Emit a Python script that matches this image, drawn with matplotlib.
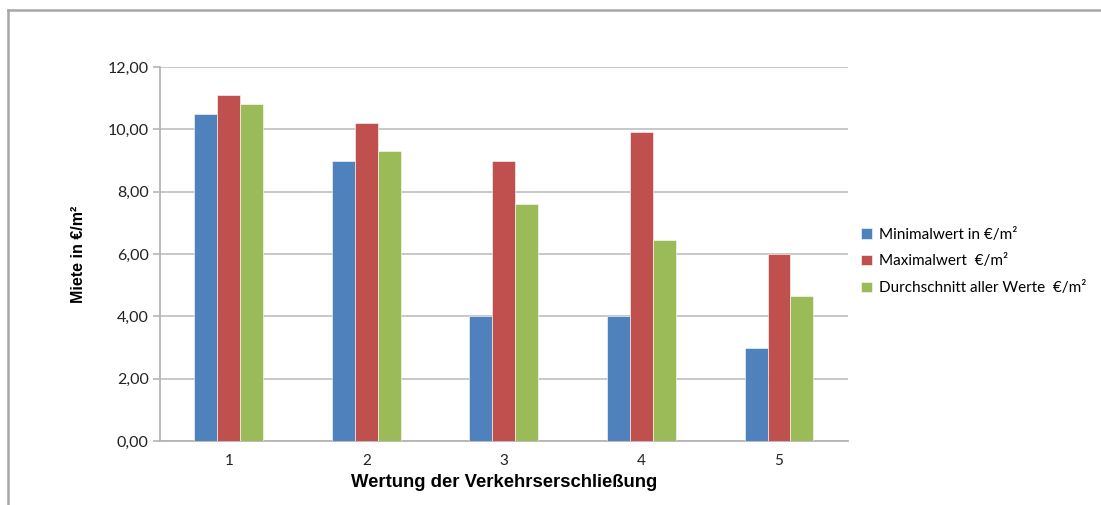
import matplotlib
matplotlib.use('Agg')
import matplotlib.pyplot as plt
import numpy as np
from matplotlib.lines import Line2D

# -----------------------------------------------------
# Rent values per rating of transport access

categories = ['1', '2', '3', '4', '5']
minWerte = [10.5, 9.0, 4.0, 4.0, 3.0]
maxWerte = [11.1, 10.2, 9.0, 9.9, 6.0]
avgWerte = [10.8, 9.3, 7.6, 6.45, 4.65]
seriesNames = ['Minimalwert in €/m²', 'Maximalwert  €/m²', 'Durchschnitt aller Werte  €/m²']
yTicks = [0, 2, 4, 6, 8, 10, 12]

colors = ['#4F81BD', '#C0504D', '#9BBB59']

fig = plt.figure(figsize=(11.01, 5.05), dpi=100)
ax = fig.add_axes([0.1453, 0.1267, 0.6247, 0.7406])

# outer chart frame (only top and left edges are visible)
fig.add_artist(Line2D([8 / 1101, 8 / 1101], [0, 1 - 10 / 505], transform=fig.transFigure,
                      color='#A6A6A6', lw=1.8))
fig.add_artist(Line2D([8 / 1101, 1], [1 - 10 / 505, 1 - 10 / 505], transform=fig.transFigure,
                      color='#A6A6A6', lw=1.8))

x = np.arange(len(categories))
barWidth = 0.167
for i, (vals, col, name) in enumerate(zip([minWerte, maxWerte, avgWerte], colors, seriesNames)):
    ax.bar(x + (i - 1) * barWidth, vals, barWidth, color=col, label=name,
           edgecolor='white', linewidth=0.4, zorder=3)

ax.set_xlim(-0.5, len(categories) - 0.5)
ax.set_ylim(0, 12)
ax.set_yticks(yTicks)
ax.set_yticklabels([('%.2f' % v).replace('.', ',') for v in yTicks])
ax.set_xticks(x)
ax.set_xticklabels(categories)

ax.grid(axis='y', color='#C4C4C4', lw=1.3, zorder=0)
for s in ['top', 'right']:
    ax.spines[s].set_visible(False)
for s in ['left', 'bottom']:
    ax.spines[s].set_color('#B4B4B4')
    ax.spines[s].set_linewidth(1.3)

ax.tick_params(axis='y', length=5, color='#B4B4B4', width=1.2, labelsize=11.5, pad=3,
               labelcolor='#222222')
ax.tick_params(axis='x', length=0, labelsize=11, pad=9, labelcolor='#222222')
for lbl in ax.get_xticklabels() + ax.get_yticklabels():
    lbl.set_family('Lato')

ax.set_ylabel('Miete in €/m²', fontsize=11.5, fontweight='bold', family='Liberation Sans', labelpad=16)
ax.set_xlabel('Wertung der Verkehrserschließung', fontsize=13.3, fontweight='bold',
              family='Liberation Sans', labelpad=5)

leg = ax.legend(loc='center left', bbox_to_anchor=(0.999, 0.48), frameon=False,
                prop={'family': 'Lato', 'size': 11}, handlelength=0.7, handleheight=0.7,
                handletextpad=0.5, labelspacing=0.85)

fig.savefig('out.png', dpi=100)
